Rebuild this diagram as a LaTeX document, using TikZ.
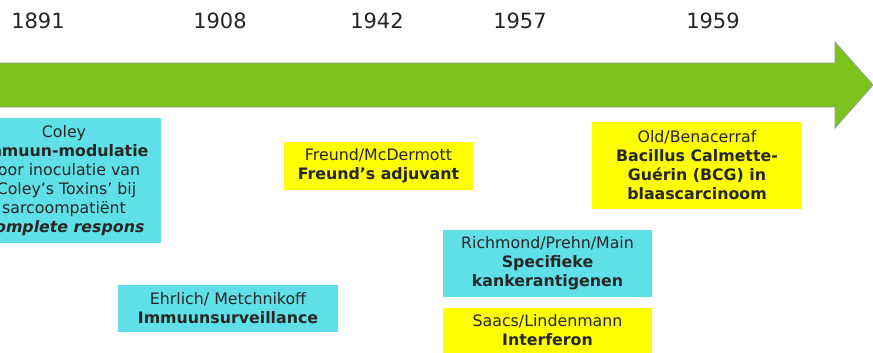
\documentclass[tikz,border=0pt]{standalone}
\usepackage{fontspec}
\setmainfont{DejaVu Sans}
\definecolor{arrowgreen}{HTML}{7DC31D}
\definecolor{boxcyan}{HTML}{5EE0E6}
\definecolor{boxyellow}{HTML}{FFFF00}

\begin{document}
\begin{tikzpicture}[x=1pt, y=-1pt, every text node part/.style={align=center},
    cyanbox/.style={fill=boxcyan, inner sep=0pt, text=black!85, font=\fontsize{15.8}{19}\selectfont},
    yellowbox/.style={fill=boxyellow, inner sep=0pt, text=black!85, font=\fontsize{15.8}{19}\selectfont},
    year/.style={text=black!85, font=\fontsize{21}{24}\selectfont}]
    \clip (0, 0) rectangle (873, 353);
    \draw[fill=arrowgreen, draw=gray!80, line width=0.8pt] (-2, 63) -- (835, 63) -- (835, 42) -- (873, 85) -- (835, 128) -- (835, 107) -- (-2, 107) -- cycle;
    \node (y1891) [year] at (38, 21) {1891};
    \node (y1908) [year] at (220, 21) {1908};
    \node (y1942) [year] at (377, 21) {1942};
    \node (y1957) [year] at (520, 21) {1957};
    \node (y1959) [year] at (713, 21) {1959};
    \node (coley) [cyanbox, minimum width=194, minimum height=125] at (64, 180.5) {Coley \\ \textbf{Immuun-modulatie} \\ door inoculatie van \\ ‘Coley’s Toxins’ bij \\ sarcoompatiënt \\ \textbf{\textit{Complete respons}}};
    \node (ehrlich) [cyanbox, minimum width=220, minimum height=47] at (228, 308.5) {Ehrlich/ Metchnikoff \\ \textbf{Immuunsurveillance}};
    \node (freund) [yellowbox, minimum width=189, minimum height=48] at (378.5, 166) {Freund/McDermott \\ \textbf{Freund’s adjuvant}};
    \node (richmond) [cyanbox, minimum width=209, minimum height=67] at (547.5, 263.5) {Richmond/Prehn/Main \\ \textbf{Specifieke} \\ \textbf{kankerantigenen}};
    \node (saacs) [yellowbox, minimum width=209, minimum height=45] at (547.5, 330.5) {Saacs/Lindenmann \\ \textbf{Interferon}};
    \node (old) [yellowbox, minimum width=210, minimum height=87] at (697, 165.5) {Old/Benacerraf \\ \textbf{Bacillus Calmette-} \\ \textbf{Guérin (BCG) in} \\ \textbf{blaascarcinoom}};
\end{tikzpicture}
\end{document}
